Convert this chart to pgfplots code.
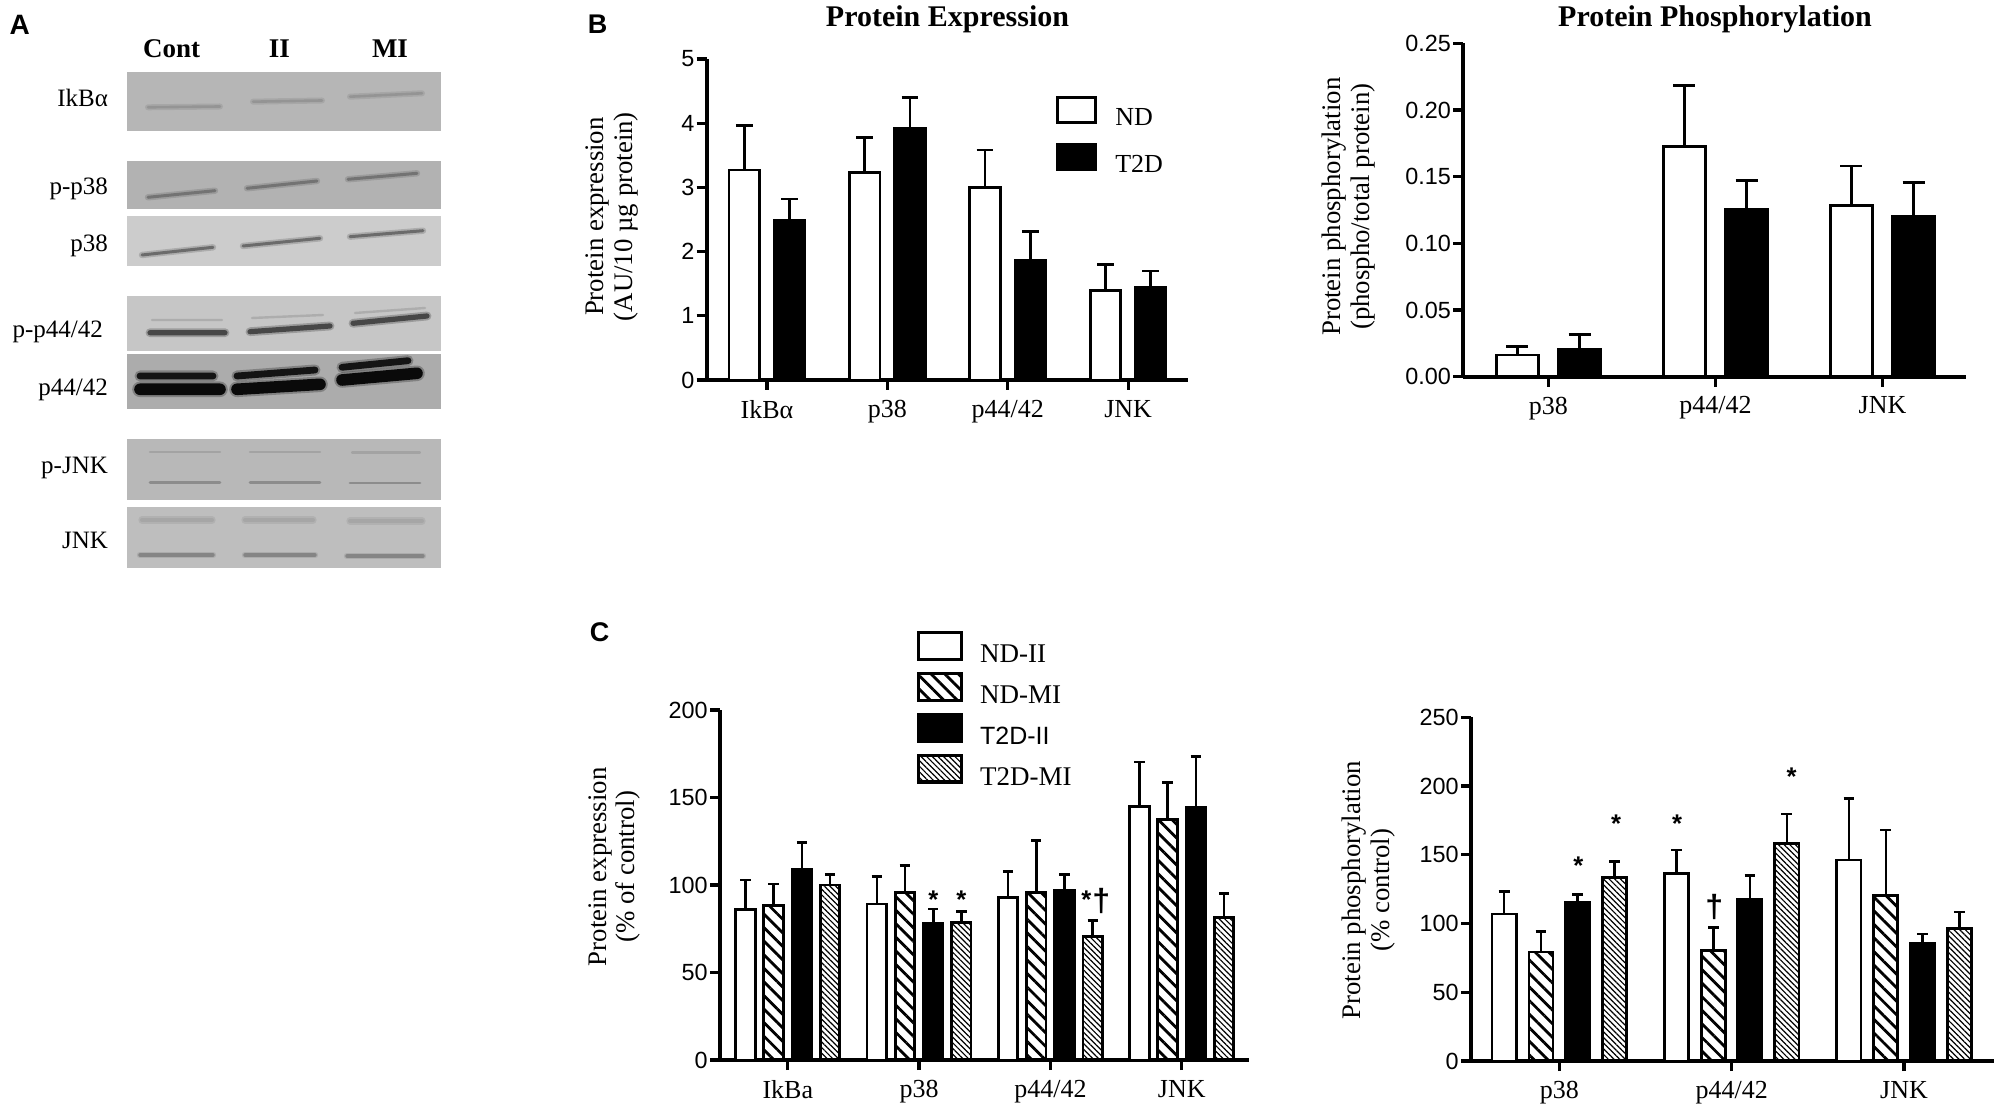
\documentclass[border=0pt]{standalone}
\usepackage{fontspec}
\setmainfont{Liberation Serif}
\newfontfamily\tnr{Liberation Serif}
\newfontfamily\arial{Liberation Sans}
\usepackage{pgfplots}
\pgfplotsset{compat=1.18}
\usetikzlibrary{patterns.meta}

\definecolor{cIk}{RGB}{182,182,182}
\definecolor{cpp38}{RGB}{178,178,178}
\definecolor{cp38}{RGB}{204,204,204}
\definecolor{cpp44}{RGB}{198,198,198}
\definecolor{cp44}{RGB}{172,172,172}
\definecolor{cpJ}{RGB}{184,184,184}
\definecolor{cJ}{RGB}{190,190,190}

\tikzset{band/.style={line cap=round, line width=#1}}

\pgfplotsset{
  gp/.style={
    scale only axis, ybar, clip=false,
    axis lines*=left,
    axis line style={line width=2pt,-},
    tick style={line width=1.6pt,black},
    major tick length=5pt,
    tick align=outside,
    minor tick num=0,
    xticklabel style={font=\fontsize{13}{13}\selectfont, yshift=-1.5pt},
    yticklabel style={font=\arial\fontsize{11.7}{11.7}\selectfont, inner sep=1pt},
    ylabel style={font=\tnr\fontsize{13.4}{14.2}\selectfont, align=center, anchor=center},
    every axis plot/.append style={draw=black, line width=1.4pt},
    error bars/y dir=plus,
    error bars/y explicit,
    error bars/error bar style={line width=1.3pt, black, solid},
    legend cell align=left,
  },
  cap/.style={error bars/error mark options={rotate=90, line width=1.3pt, mark size=#1, black, solid}},
  ndbar/.style={fill=white},
  tdbar/.style={fill=black},
  ndmi/.style={pattern={Lines[angle=-45,distance=4.8pt,line width=1.4pt]}, pattern color=black},
  tdmi/.style={pattern={Lines[angle=-45,distance=2pt,line width=0.6pt]}, pattern color=black},
  lgB/.style={legend image code/.code={\draw[##1, line width=1.6pt] (0pt,-2pt) rectangle (19pt,10.5pt); \path (27pt,0pt);}},
  lgC/.style={legend image code/.code={\draw[##1, line width=1.6pt] (0pt,-2.1pt) rectangle (21.5pt,11.1pt); \path (29pt,0pt);}},
}

\begin{document}
\begin{tikzpicture}
\path[use as bounding box] (0,0) rectangle (997.5pt,557pt);

\begin{scope}[x=0.5pt,y=-0.5pt,yshift=557pt]
% ---- Panel A blots ----
\fill[cIk] (127.3,71.7) rectangle (440.7,131);
\fill[cpp38] (127.3,160.7) rectangle (440.7,209.3);
\fill[cp38] (127.3,216) rectangle (440.7,266);
\fill[cpp44] (127.3,296) rectangle (440.7,350.7);
\fill[cp44] (127.3,354) rectangle (440.7,409);
\fill[cpJ] (127.3,439.3) rectangle (440.7,500);
\fill[cJ] (127.3,507.3) rectangle (440.7,567.7);
% soft halos
\begin{scope}[opacity=0.35]
\draw[black!45, band=3pt] (148,107.3) -- (220,106.5) (253,101.7) -- (322,100.5) (350,96.7) -- (422,93.3);
\draw[black!55, band=3.2pt] (148,197.3) -- (215,190.7) (247,188.3) -- (317,181) (348,179.3) -- (417,173.3);
\draw[black!55, band=3.2pt] (142,255) -- (213,247.3) (243,246) -- (320,238.3) (350,236.7) -- (423,230.7);
\draw[black!70, band=4.4pt] (150,332.7) -- (225,332.7) (250,331.7) -- (330,326) (353,323.3) -- (427,316);
\draw[black!80, band=5.5pt] (140,376) -- (213,376) (237,376) -- (315,370) (342,367.3) -- (408,360.7);
\draw[black!80, band=7.8pt] (140,389.3) -- (220,389.3) (237,389.3) -- (320,384.3) (342,380) -- (417,373.3);
\draw[black!40, band=3.6pt] (142,520) -- (212,520) (245,520) -- (313,520) (350,521) -- (422,521);
\draw[black!45, band=3.2pt] (140,555) -- (213,555) (245,555) -- (315,555) (347,556) -- (423,556);
\end{scope}
\draw[black!42, band=1.3pt] (148,107.3) -- (220,106.5) (253,101.7) -- (322,100.5) (350,96.7) -- (422,93.3);
\draw[black!55, band=1.5pt] (148,197.3) -- (215,190.7) (247,188.3) -- (317,181) (348,179.3) -- (417,173.3);
\draw[black!58, band=1.5pt] (142,255) -- (213,247.3) (243,246) -- (320,238.3) (350,236.7) -- (423,230.7);
\draw[black!32, band=1.2pt] (152,320) -- (222,320) (252,318) -- (323,315) (355,313) -- (425,308);
\draw[black!72, band=2.6pt] (150,332.7) -- (225,332.7) (250,331.7) -- (330,326) (353,323.3) -- (427,316);
\draw[black!92, band=3.4pt] (140,376) -- (213,376) (237,376) -- (315,370) (342,367.3) -- (408,360.7);
\draw[black!96, band=5.8pt] (140,389.3) -- (220,389.3) (237,389.3) -- (320,384.3) (342,380) -- (417,373.3);
\draw[black!36, band=1.1pt] (150,451.7) -- (220,451.7) (250,451.7) -- (320,451.7) (352,452.5) -- (420,452.5);
\draw[black!45, band=1.4pt] (150,482.7) -- (220,482.7) (250,482.7) -- (320,482.7) (350,483) -- (420,483);
\draw[black!35, band=2pt] (142,520) -- (212,520) (245,520) -- (313,520) (350,521) -- (422,521);
\draw[black!48, band=1.7pt] (140,555) -- (213,555) (245,555) -- (315,555) (347,556) -- (423,556);
% labels
\node[anchor=base west, inner sep=0, font=\arial\bfseries\fontsize{14}{14}\selectfont] at (9.3,35) {A};
\node[anchor=base west, inner sep=0, font=\arial\bfseries\fontsize{13.5}{13.5}\selectfont] at (587.4,34) {B};
\node[anchor=base west, inner sep=0, font=\arial\bfseries\fontsize{13.5}{13.5}\selectfont] at (589.5,641.7) {C};
\foreach \x/\t in {171.7/Cont, 279.3/II, 390/MI}
  \node[anchor=base, inner sep=0, font=\bfseries\fontsize{13.5}{13.5}\selectfont] at (\x,57.3) {\t};
\foreach \y/\t/\r in {106.7/IkBα/108.3, 195/p-p38/108.3, 251.7/p38/108.3, 337.3/p-p44\slash 42/103.3, 396/p44\slash 42/108.3, 474/p-JNK/108.3, 548.3/JNK/108.3}
  \node[anchor=base east, inner sep=0, font=\fontsize{12.5}{12.5}\selectfont] at (\r,\y) {\t};
% titles
\node[anchor=base, inner sep=0, font=\bfseries\fontsize{15}{15}\selectfont] at (947.5,26.7) {Protein Expression};
\node[anchor=base, inner sep=0, font=\bfseries\fontsize{15}{15}\selectfont] at (1715,26.7) {Protein Phosphorylation};
\end{scope}

% ---- Panel B left ----
\begin{axis}[gp, at={(353.35pt,367pt)}, anchor=south west,
  width=240.8pt, height=160.5pt,
  xmin=-0.5, xmax=3.5, ymin=0, ymax=5,
  xtick={0,1,2,3}, xticklabels={IkBα,p38,p44/42,JNK},
  ytick={0,1,2,3,4,5}, yticklabels={0,1,2,3,4,5},
  bar width=0.255, cap=4.2pt,
  ylabel={Protein expression\\(AU/10 µg protein)},
  ylabel style={at={(axis description cs:-0.197,0.509)}},
  legend style={at={(axis description cs:0.725,0.886)}, anchor=north west, draw=none, fill=none,
    inner sep=0pt, row sep=6.3pt, font=\fontsize{13}{13}\selectfont, nodes={inner sep=1pt}},
]
\addplot[ndbar, lgB, bar shift=-0.188] coordinates {(0,3.27) +- (0,0.69) (1,3.23) +- (0,0.55) (2,3.00) +- (0,0.58) (3,1.40) +- (0,0.40)};
\addplot[tdbar, lgB, bar shift=0.188] coordinates {(0,2.48) +- (0,0.34) (1,3.92) +- (0,0.48) (2,1.86) +- (0,0.45) (3,1.45) +- (0,0.25)};
\legend{ND,T2D}
\end{axis}

% ---- Panel B right ----
\begin{axis}[gp, at={(731.65pt,368.65pt)}, anchor=south west,
  width=251.35pt, height=166.7pt,
  xmin=-0.51, xmax=2.5, ymin=0, ymax=0.25,
  xtick={0,1,2}, xticklabels={p38,p44/42,JNK},
  ytick={0,0.05,0.10,0.15,0.20,0.25}, yticklabels={0.00,0.05,0.10,0.15,0.20,0.25},
  bar width=0.254, cap=5.5pt,
  ylabel={Protein phosphorylation\\(phospho/total protein)},
  ylabel style={at={(axis description cs:-0.228,0.51)}},
]
\addplot[ndbar, bar shift=-0.186] coordinates {(0,0.0163) +- (0,0.0062) (1,0.1728) +- (0,0.0457) (2,0.1286) +- (0,0.0294)};
\addplot[tdbar, bar shift=0.186] coordinates {(0,0.0207) +- (0,0.0111) (1,0.1254) +- (0,0.0219) (2,0.1204) +- (0,0.0254)};
\end{axis}

% ---- Panel C left ----
\begin{axis}[gp, at={(360pt,27pt)}, anchor=south west,
  width=264.35pt, height=175pt,
  xmin=-0.516, xmax=3.51, ymin=0, ymax=200,
  xtick={0,1,2,3}, xticklabels={IkBa,p38,p44/42,JNK},
  ytick={0,50,100,150,200}, yticklabels={0,50,100,150,200},
  bar width=0.148, cap=2.6pt,
  ylabel={Protein expression\\(\% of control)},
  ylabel style={at={(axis description cs:-0.20,0.552)}},
  legend style={at={(axis description cs:0.372,1.226)}, anchor=north west, draw=none, fill=none,
    inner sep=0pt, row sep=2.4pt, font=\fontsize{13.5}{13.5}\selectfont, nodes={inner sep=1pt}},
]
\addplot[ndbar, lgC, bar shift=-0.322] coordinates {(0,85.8) +- (0,17.0) (1,89.2) +- (0,15.5) (2,92.8) +- (0,14.8) (3,144.9) +- (0,25.4)};
\addplot[ndmi, lgC, bar shift=-0.108] coordinates {(0,88.1) +- (0,12.5) (1,95.6) +- (0,15.4) (2,95.8) +- (0,29.8) (3,137.5) +- (0,21.2)};
\addplot[tdbar, lgC, bar shift=0.108] coordinates {(0,108.9) +- (0,15.3) (1,78.2) +- (0,8.2) (2,96.8) +- (0,9.1) (3,144.1) +- (0,29.2)};
\addplot[tdmi, lgC, bar shift=0.322] coordinates {(0,100.0) +- (0,6.0) (1,78.6) +- (0,6.2) (2,70.6) +- (0,9.1) (3,81.4) +- (0,13.9)};
\legend{ND-II,ND-MI,{\arial\fontsize{12.5}{12.5}\selectfont T2D-II},T2D-MI}
\node[font=\arial\bfseries\fontsize{12.8}{12.8}\selectfont, yshift=-2.7pt] at (axis cs:1.108,94.9) {*};
\node[font=\arial\bfseries\fontsize{12.8}{12.8}\selectfont, yshift=-2.7pt] at (axis cs:1.322,94.9) {*};
\node[font=\arial\bfseries\fontsize{12.8}{12.8}\selectfont, yshift=-2.7pt] at (axis cs:2.274,94.9) {*};
\node[font=\arial\bfseries\fontsize{16}{16}\selectfont] at (axis cs:2.388,90.9) {†};
\end{axis}

% ---- Panel C right ----
\begin{axis}[gp, at={(735.5pt,26.5pt)}, anchor=south west,
  width=261.35pt, height=171.85pt,
  xmin=-0.512, xmax=2.52, ymin=0, ymax=250,
  xtick={0,1,2}, xticklabels={p38,p44/42,JNK},
  ytick={0,50,100,150,200,250}, yticklabels={0,50,100,150,200,250},
  bar width=0.14, cap=2.7pt,
  ylabel={Protein phosphorylation\\(\% control)},
  ylabel style={at={(axis description cs:-0.196,0.497)}},
]
\addplot[ndbar, bar shift=-0.32] coordinates {(0,107.0) +- (0,16.2) (1,136.5) +- (0,16.9) (2,146.2) +- (0,44.6)};
\addplot[ndmi, bar shift=-0.106] coordinates {(0,79.3) +- (0,14.9) (1,80.4) +- (0,16.7) (2,120.1) +- (0,47.8)};
\addplot[tdbar, bar shift=0.106] coordinates {(0,115.7) +- (0,5.6) (1,117.9) +- (0,16.9) (2,85.5) +- (0,6.8)};
\addplot[tdmi, bar shift=0.32] coordinates {(0,133.6) +- (0,11.3) (1,158.0) +- (0,21.7) (2,96.2) +- (0,12.3)};
\node[font=\arial\bfseries\fontsize{12.8}{12.8}\selectfont, yshift=-2.7pt] at (axis cs:0.11,146.2) {*};
\node[font=\arial\bfseries\fontsize{12.8}{12.8}\selectfont, yshift=-2.7pt] at (axis cs:0.33,176.5) {*};
\node[font=\arial\bfseries\fontsize{12.8}{12.8}\selectfont, yshift=-2.7pt] at (axis cs:0.684,176.5) {*};
\node[font=\arial\bfseries\fontsize{16}{16}\selectfont] at (axis cs:0.899,112.2) {†};
\node[font=\arial\bfseries\fontsize{12.8}{12.8}\selectfont, yshift=-2.7pt] at (axis cs:1.348,210.9) {*};
\end{axis}
\end{tikzpicture}
\end{document}
